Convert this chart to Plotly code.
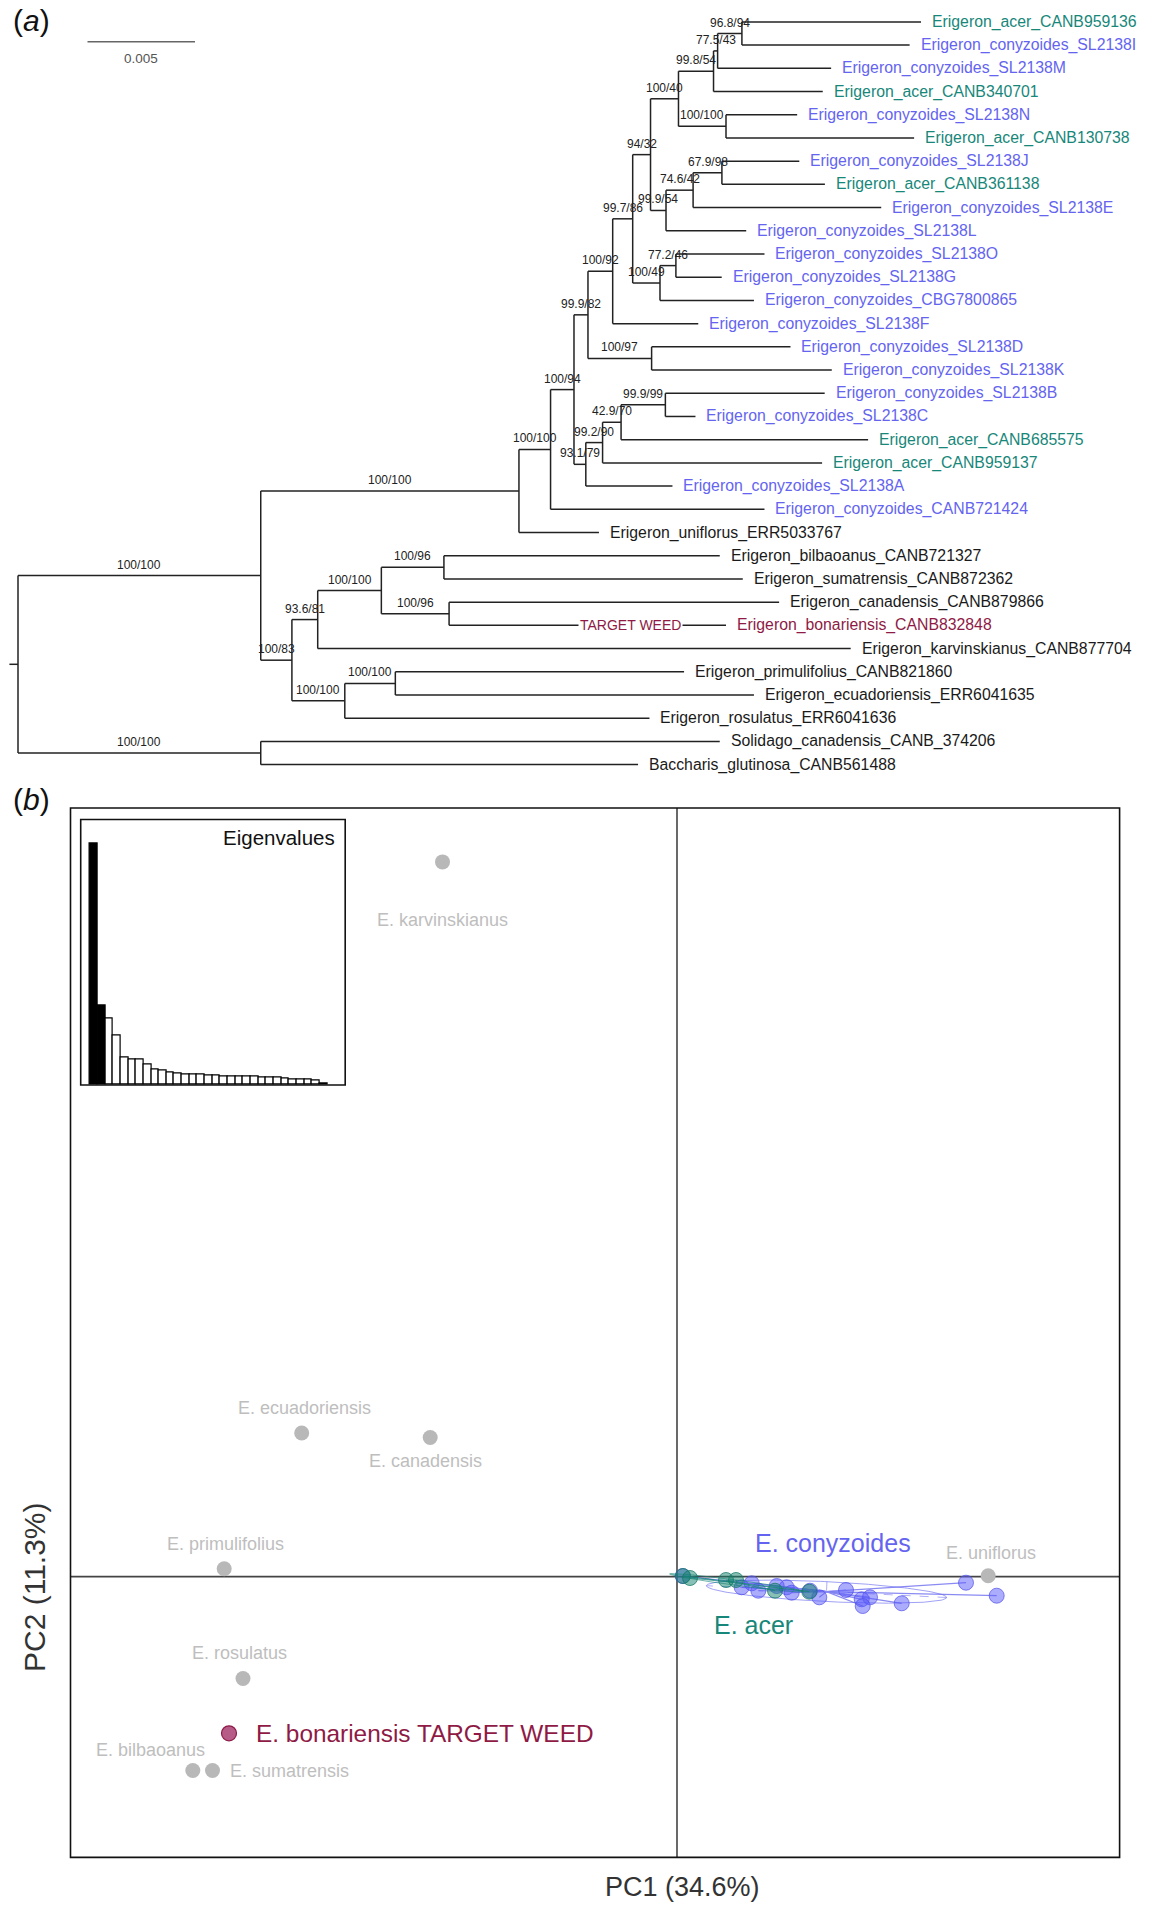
import numpy as np
import plotly.graph_objects as go

W, H = 1156, 1906
FONT = "Liberation Sans, Arial, Helvetica, sans-serif"

# ---------------- (a) phylogenetic tree data ----------------
tip_names = [
    "Erigeron_acer_CANB959136", "Erigeron_conyzoides_SL2138I", "Erigeron_conyzoides_SL2138M",
    "Erigeron_acer_CANB340701", "Erigeron_conyzoides_SL2138N", "Erigeron_acer_CANB130738",
    "Erigeron_conyzoides_SL2138J", "Erigeron_acer_CANB361138", "Erigeron_conyzoides_SL2138E",
    "Erigeron_conyzoides_SL2138L", "Erigeron_conyzoides_SL2138O", "Erigeron_conyzoides_SL2138G",
    "Erigeron_conyzoides_CBG7800865", "Erigeron_conyzoides_SL2138F", "Erigeron_conyzoides_SL2138D",
    "Erigeron_conyzoides_SL2138K", "Erigeron_conyzoides_SL2138B", "Erigeron_conyzoides_SL2138C",
    "Erigeron_acer_CANB685575", "Erigeron_acer_CANB959137", "Erigeron_conyzoides_SL2138A",
    "Erigeron_conyzoides_CANB721424", "Erigeron_uniflorus_ERR5033767", "Erigeron_bilbaoanus_CANB721327",
    "Erigeron_sumatrensis_CANB872362", "Erigeron_canadensis_CANB879866", "Erigeron_bonariensis_CANB832848",
    "Erigeron_karvinskianus_CANB877704", "Erigeron_primulifolius_CANB821860",
    "Erigeron_ecuadoriensis_ERR6041635", "Erigeron_rosulatus_ERR6041636",
    "Solidago_canadensis_CANB_374206", "Baccharis_glutinosa_CANB561488",
]
tip_groups = [
    "acer", "conyzoides", "conyzoides", "acer", "conyzoides", "acer", "conyzoides", "acer",
    "conyzoides", "conyzoides", "conyzoides", "conyzoides", "conyzoides", "conyzoides",
    "conyzoides", "conyzoides", "conyzoides", "conyzoides", "acer", "acer", "conyzoides",
    "conyzoides", "other", "other", "other", "other", "target", "other", "other", "other",
    "other", "other", "other",
]
# distance from root (substitutions/site)
tip_depths = [
    0.04200, 0.04147, 0.03782, 0.03743, 0.03624, 0.04168, 0.03634, 0.03753, 0.04015,
    0.03387, 0.03472, 0.03273, 0.03423, 0.03164, 0.03593, 0.03785, 0.03752, 0.03151,
    0.03954, 0.03740, 0.03044, 0.03472, 0.02702, 0.03264, 0.03371, 0.03540, 0.03293,
    0.03873, 0.03098, 0.03423, 0.02937, 0.03264, 0.02884,
]

node_ids = ["root", "EE", "P1", "P2", "Q", "R", "N", "J", "I", "E", "C", "B", "A", "D",
            "H", "G", "F", "L", "K", "S", "W", "V", "U", "T", "DD", "AA", "Z", "X", "Y",
            "CC", "BB", "OG"]
node_depths = [0.0, 0.01129, 0.02330, 0.02477, 0.02586, 0.02651, 0.02766, 0.02859, 0.02942,
               0.03072, 0.03235, 0.03254, 0.03367, 0.03293, 0.03014, 0.03140, 0.03274,
               0.02986, 0.03060, 0.02947, 0.02641, 0.02719, 0.02805, 0.03011, 0.01274,
               0.01394, 0.01690, 0.01981, 0.02005, 0.01520, 0.01755, 0.01129]
node_children = [
    ["EE", "OG"], ["P1", "DD"], ["P2", "t23"], ["Q", "t22"], ["R", "W"], ["N", "S"],
    ["J", "t14"], ["I", "L"], ["E", "H"], ["C", "D"], ["B", "t4"], ["A", "t3"], ["t1", "t2"],
    ["t5", "t6"], ["G", "t10"], ["F", "t9"], ["t7", "t8"], ["K", "t13"], ["t11", "t12"],
    ["t15", "t16"], ["V", "t21"], ["U", "t20"], ["T", "t19"], ["t17", "t18"], ["AA", "CC"],
    ["Z", "t28"], ["X", "Y"], ["t24", "t25"], ["t26", "t27"], ["BB", "t31"], ["t29", "t30"],
    ["t32", "t33"],
]
node_support = ["", "100/100", "100/100", "100/100", "100/94", "99.9/82", "100/92", "99.7/86",
                "94/32", "100/40", "99.8/54", "77.5/43", "96.8/94", "100/100", "99.9/54",
                "74.6/42", "67.9/98", "100/49", "77.2/46", "100/97", "93.1/79", "99.2/90",
                "42.9/70", "99.9/99", "100/83", "93.6/81", "100/100", "100/96", "100/96",
                "100/100", "100/100", "100/100"]
root_edge = 0.0004
scale_bar_length = 0.005
scale_bar_label = "0.005"
target_branch_label = "TARGET WEED"

# ---------------- (b) PCA data ----------------
eig_values = [34.6, 11.3, 9.37, 6.97, 3.84, 3.60, 3.46, 2.74, 2.11, 1.92, 1.63, 1.54, 1.44,
              1.39, 1.35, 1.25, 1.20, 1.15, 1.11, 1.06, 1.06, 1.01, 0.96, 0.91, 0.87, 0.77,
              0.67, 0.62, 0.58, 0.48, 0.10]
n_black_bars = 2

other_labels = ["E. karvinskianus", "E. ecuadoriensis", "E. canadensis", "E. primulifolius",
                "E. rosulatus", "E. bilbaoanus", "E. sumatrensis", "E. uniflorus"]
other_pc1 = [-2.345, -3.753, -2.468, -4.528, -4.340, -4.842, -4.645, 3.112]
other_pc2 = [7.147, 1.436, 1.391, 0.079, -1.019, -1.939, -1.939, 0.008]

conyz_pc1 = [0.057, 0.647, 0.747, 0.813, 0.997, 1.097, 1.147, 1.330, 1.423, 1.690, 1.847,
             1.930, 1.857, 2.247, 2.890, 3.197]
conyz_pc2 = [0.006, -0.107, -0.067, -0.141, -0.094, -0.107, -0.161, -0.141, -0.207, -0.134,
             -0.227, -0.207, -0.294, -0.267, -0.061, -0.191]
acer_pc1 = [0.060, 0.490, 0.590, 0.980, 1.323, 0.130]
acer_pc2 = [0.006, -0.034, -0.034, -0.141, -0.151, -0.014]

target_label = "E. bonariensis TARGET WEED"
target_pc1 = [-4.48]
target_pc2 = [-1.567]

group_labels = ["E. conyzoides", "E. acer"]
group_label_pc1 = [1.555, 0.763]
group_label_pc2 = [0.336, -0.484]

pc_titles = ["PC1 (34.6%)", "PC2 (11.3%)"]

# ---------------- styles ----------------
COL_CONYZ = "#6464F0"
COL_ACER = "#17877A"
COL_TARGET = "#8E1A45"
COL_OTHER_TIP = "#1a1a1a"
COL_GREY_PT = "#B8B8B8"
COL_GREY_TXT = "#BEBEBE"
group_color = {"acer": COL_ACER, "conyzoides": COL_CONYZ, "target": COL_TARGET, "other": COL_OTHER_TIP}

# pixel geometry of panels (layout only)
PX_PER_UNIT_TREE = 21500.0
ROOT_PX = 18.0
TIP1_PX, TIP_STEP = 21.9, 23.21
TREE_BOTTOM_PX = 780.0

fig = go.Figure()
annotations = []
shapes = []

# ---------------- tree layout ----------------
depth, ypos = {}, {}
for i, d in enumerate(tip_depths):
    depth[f"t{i+1}"] = d
    ypos[f"t{i+1}"] = i + 1
children = dict(zip(node_ids, node_children))
for nid, d in zip(node_ids, node_depths):
    depth[nid] = d


def get_y(n):
    if n in ypos:
        return ypos[n]
    ys = [get_y(c) for c in children[n]]
    ypos[n] = (ys[0] + ys[-1]) / 2.0
    return ypos[n]


get_y("root")
parent = {c: p for p, cs in children.items() for c in cs}

lx, ly = [], []
for nid in node_ids:
    cs = children[nid]
    lx += [depth[nid], depth[nid], None]
    ly += [ypos[cs[0]], ypos[cs[-1]], None]
for c, p in parent.items():
    lx += [depth[p], depth[c], None]
    ly += [ypos[c], ypos[c], None]
lx += [-root_edge, 0.0, None]
ly += [ypos["root"], ypos["root"], None]

fig.add_trace(go.Scatter(x=lx, y=ly, mode="lines", line=dict(color="#222222", width=1.5),
                         hoverinfo="skip", xaxis="x", yaxis="y"))

# tip labels
for i, (name, grp, d) in enumerate(zip(tip_names, tip_groups, tip_depths)):
    annotations.append(dict(x=d, y=i + 1, xref="x", yref="y", text=name, showarrow=False,
                            xanchor="left", yanchor="middle", xshift=9,
                            font=dict(size=15.8, color=group_color[grp], family=FONT)))

# support labels on branches
for nid, sup in zip(node_ids, node_support):
    if not sup:
        continue
    p = parent[nid]
    annotations.append(dict(x=(depth[p] + depth[nid]) / 2.0, y=ypos[nid], xref="x", yref="y",
                            text=sup, showarrow=False, xanchor="center", yanchor="middle",
                            yshift=11, font=dict(size=12, color="#222222", family=FONT)))

# TARGET WEED label on bonariensis branch
t_idx = tip_groups.index("target")
t_id = f"t{t_idx + 1}"
p_t = parent[t_id]
annotations.append(dict(x=depth[p_t] + 0.655 * (depth[t_id] - depth[p_t]), y=ypos[t_id],
                        xref="x", yref="y", text=target_branch_label, showarrow=False,
                        bgcolor="white", borderpad=1, xanchor="center", yanchor="middle",
                        font=dict(size=14, color=COL_TARGET, family=FONT)))

# scale bar
sb_x0, sb_y = 0.003233, 1.853
fig.add_trace(go.Scatter(x=[sb_x0, sb_x0 + scale_bar_length], y=[sb_y, sb_y], mode="lines",
                         line=dict(color="#666666", width=1.5), hoverinfo="skip",
                         xaxis="x", yaxis="y"))
annotations.append(dict(x=sb_x0 + scale_bar_length / 2, y=sb_y, xref="x", yref="y",
                        text=scale_bar_label, showarrow=False, yshift=-16.5,
                        font=dict(size=13.5, color="#555555", family=FONT)))

# ---------------- PCA panel ----------------
def add_group(pc1, pc2, color, fill, edge):
    P = np.column_stack([pc1, pc2])
    m = P.mean(axis=0)
    # star lines
    sx, sy = [], []
    for p in P:
        sx += [m[0], p[0], None]
        sy += [m[1], p[1], None]
    fig.add_trace(go.Scatter(x=sx, y=sy, mode="lines", line=dict(color=color, width=1.2),
                             opacity=0.75, hoverinfo="skip", xaxis="x2", yaxis="y2"))
    # 1.5-sd ellipse
    C = np.cov(P.T, bias=True)
    vals, vecs = np.linalg.eigh(C)
    vals = np.clip(vals, 0, None)
    t = np.linspace(0, 2 * np.pi, 200)
    a = 1.5 * np.sqrt(vals[1]) * vecs[:, 1]
    b = 1.5 * np.sqrt(vals[0]) * vecs[:, 0]
    ex = m[0] + np.cos(t) * a[0] + np.sin(t) * b[0]
    ey = m[1] + np.cos(t) * a[1] + np.sin(t) * b[1]
    fig.add_trace(go.Scatter(x=ex, y=ey, mode="lines", line=dict(color=color, width=1),
                             opacity=0.6, hoverinfo="skip", xaxis="x2", yaxis="y2"))
    fig.add_trace(go.Scatter(x=[m[0] - a[0], m[0] + a[0], None, m[0] - b[0], m[0] + b[0]],
                             y=[m[1] - a[1], m[1] + a[1], None, m[1] - b[1], m[1] + b[1]],
                             mode="lines", line=dict(color=color, width=1, dash="dash"),
                             opacity=0.5, hoverinfo="skip", xaxis="x2", yaxis="y2"))
    fig.add_trace(go.Scatter(x=pc1, y=pc2, mode="markers",
                             marker=dict(size=15, color=fill, line=dict(color=edge, width=1)),
                             hoverinfo="skip", xaxis="x2", yaxis="y2"))


add_group(conyz_pc1, conyz_pc2, COL_CONYZ, "rgba(90,90,250,0.5)", "rgba(80,80,235,0.7)")
add_group(acer_pc1, acer_pc2, COL_ACER, "rgba(20,130,110,0.5)", "rgba(20,120,100,0.75)")

fig.add_trace(go.Scatter(x=other_pc1, y=other_pc2, mode="markers",
                         marker=dict(size=15, color=COL_GREY_PT), hoverinfo="skip",
                         xaxis="x2", yaxis="y2"))
fig.add_trace(go.Scatter(x=target_pc1, y=target_pc2, mode="markers",
                         marker=dict(size=15, color="#B65A88", line=dict(color=COL_TARGET, width=1.2)),
                         hoverinfo="skip", xaxis="x2", yaxis="y2"))

# grey species labels (pixel offsets from point, +dy = below)
other_dx = [0, 3, -5, 1, -4, -42, 15, 3]
other_dy = [58, -25, 23.5, -25, -25.5, -20.5, 0, -23]
other_anchor = ["center", "center", "center", "center", "center", "center", "left", "center"]
for lab, x, y, dx, dy, anc in zip(other_labels, other_pc1, other_pc2, other_dx, other_dy, other_anchor):
    annotations.append(dict(x=x, y=y, xref="x2", yref="y2", text=lab, showarrow=False,
                            xanchor=anc, yanchor="middle", xshift=dx, yshift=-dy,
                            font=dict(size=18, color=COL_GREY_TXT, family=FONT)))
annotations.append(dict(x=target_pc1[0], y=target_pc2[0], xref="x2", yref="y2", text=target_label,
                        showarrow=False, xanchor="left", yanchor="middle", xshift=25,
                        font=dict(size=24.4, color=COL_TARGET, family=FONT)))
for lab, x, y, c in zip(group_labels, group_label_pc1, group_label_pc2, [COL_CONYZ, COL_ACER]):
    annotations.append(dict(x=x, y=y, xref="x2", yref="y2", text=lab, showarrow=False,
                            xanchor="center", yanchor="middle",
                            font=dict(size=25, color=c, family=FONT)))

# frame and origin lines
shapes.append(dict(type="line", xref="x2", yref="y2 domain", x0=0, x1=0, y0=0, y1=1,
                   line=dict(color="#444444", width=1.6), layer="below"))
shapes.append(dict(type="line", xref="x2 domain", yref="y2", x0=0, x1=1, y0=0, y1=0,
                   line=dict(color="#444444", width=1.6), layer="below"))
shapes.append(dict(type="rect", xref="x2 domain", yref="y2 domain", x0=0, x1=1, y0=0, y1=1,
                   line=dict(color="#111111", width=1.6)))

# eigenvalue inset
fig.add_trace(go.Bar(x=list(range(1, len(eig_values) + 1)), y=eig_values, width=1,
                     marker=dict(color=["black"] * n_black_bars + ["white"] * (len(eig_values) - n_black_bars),
                                 line=dict(color="black", width=1.2)),
                     hoverinfo="skip", xaxis="x3", yaxis="y3"))
shapes.append(dict(type="rect", xref="x3 domain", yref="y3 domain", x0=0, x1=1, y0=0, y1=1,
                   line=dict(color="#111111", width=1.6)))
annotations.append(dict(x=337.3 / W, y=1 - 837.3 / H, xref="paper", yref="paper", text="Eigenvalues",
                        showarrow=False, xanchor="right", yanchor="middle",
                        font=dict(size=20.5, color="#111111", family=FONT)))

# axis titles and panel letters
annotations.append(dict(x=682 / W, y=1 - 1887 / H, xref="paper", yref="paper", text=pc_titles[0],
                        showarrow=False, xanchor="center", yanchor="middle",
                        font=dict(size=27, color="#333333", family=FONT)))
annotations.append(dict(x=34 / W, y=1 - 1587 / H, xref="paper", yref="paper", text=pc_titles[1],
                        showarrow=False, xanchor="center", yanchor="middle", textangle=-90,
                        font=dict(size=30, color="#333333", family=FONT)))
annotations.append(dict(x=31.5 / W, y=1 - 20 / H, xref="paper", yref="paper", text="(<i>a</i>)",
                        showarrow=False, xanchor="center", yanchor="middle",
                        font=dict(size=30, color="#111111", family=FONT)))
annotations.append(dict(x=31.5 / W, y=1 - 799 / H, xref="paper", yref="paper", text="(<i>b</i>)",
                        showarrow=False, xanchor="center", yanchor="middle",
                        font=dict(size=30, color="#111111", family=FONT)))

hidden = dict(visible=False, showgrid=False, zeroline=False, fixedrange=True)
tree_x_range = [-ROOT_PX / PX_PER_UNIT_TREE, (W - ROOT_PX) / PX_PER_UNIT_TREE]
tree_y_range = [1 + (TREE_BOTTOM_PX - TIP1_PX) / TIP_STEP, 1 - TIP1_PX / TIP_STEP]

fig.update_layout(
    width=W, height=H, margin=dict(l=0, r=0, t=0, b=0),
    paper_bgcolor="white", plot_bgcolor="rgba(0,0,0,0)", showlegend=False, bargap=0,
    xaxis=dict(domain=[0, 1], range=tree_x_range, **hidden),
    yaxis=dict(domain=[1 - TREE_BOTTOM_PX / H, 1], range=tree_y_range, **hidden),
    xaxis2=dict(domain=[70.5 / W, 1119.6 / W], range=[-6.065, 4.426], **hidden),
    yaxis2=dict(domain=[1 - 1857.4 / H, 1 - 808 / H], range=[-2.808, 7.686], **hidden),
    xaxis3=dict(domain=[80.7 / W, 345.2 / W], range=[-0.71, 33.84], **hidden),
    yaxis3=dict(domain=[1 - 1085 / H, 1 - 819.5 / H], range=[-0.144, 38.11], **hidden),
    annotations=annotations, shapes=shapes,
)

fig.write_html("out.html", config={"displayModeBar": False},
               post_script="document.body.style.margin='0px';document.body.style.overflow='hidden';")
